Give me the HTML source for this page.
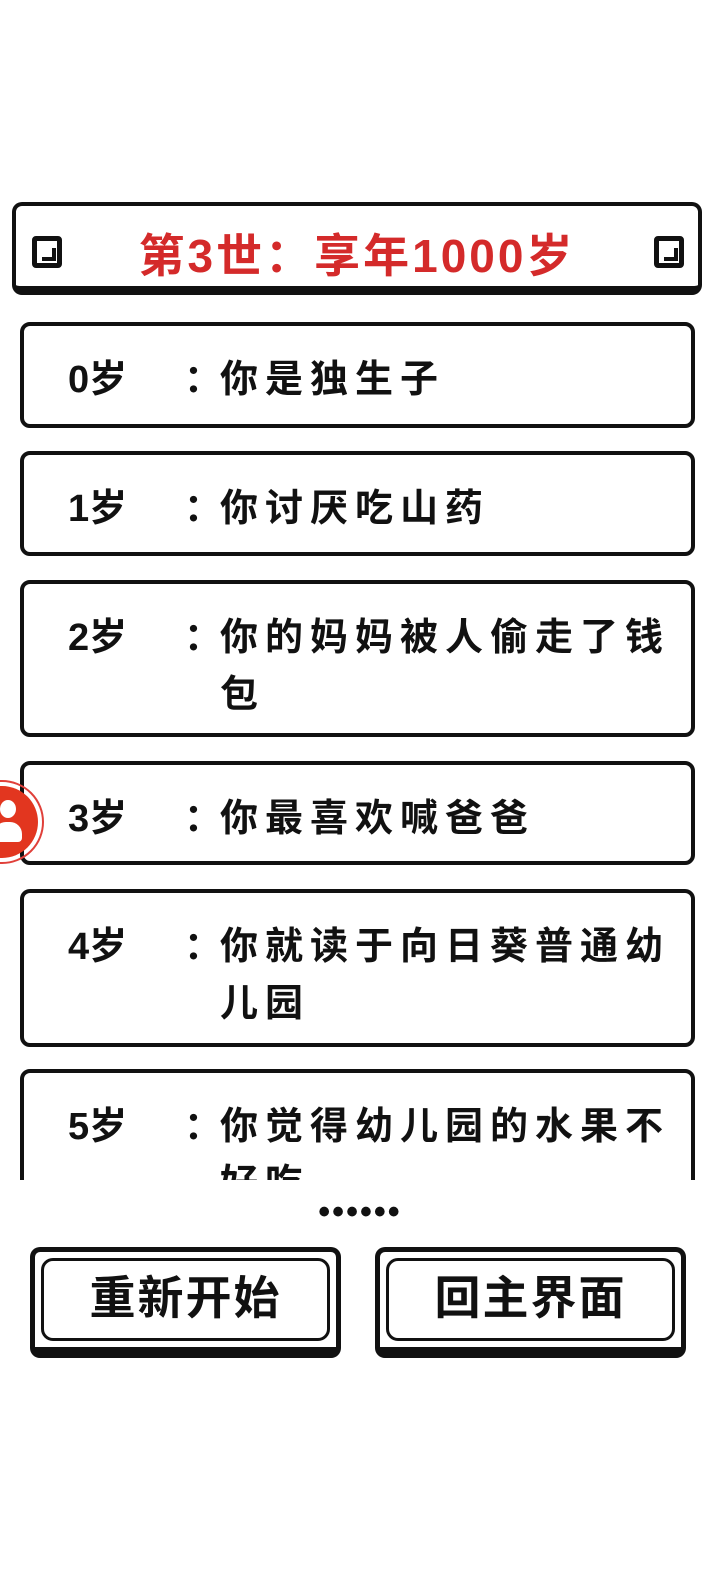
<!DOCTYPE html>
<html><head><meta charset="utf-8"><style>
*{margin:0;padding:0;box-sizing:border-box}
html,body{overflow:hidden}
body{width:720px;height:1584px;background:#fff;position:relative;font-family:"Liberation Sans","WenQuanYi Zen Hei","Noto Sans CJK SC",sans-serif;font-weight:bold;color:#111}
.hdr{position:absolute;left:12px;top:202px;width:690px;height:93px;border:4px solid #111;border-bottom-width:9px;border-radius:10px}
.hdr .t{position:absolute;left:0;right:0;top:14px;text-align:center;color:#d42a2a;font-size:46px;letter-spacing:3px}
.orn{position:absolute;top:30px;width:30px;height:32px;border:5px solid #111;border-radius:4px}
.orn:after{content:"";position:absolute;left:5px;top:7px;width:10px;height:9px;border:4px solid #111;border-left:none;border-top:none}
.clip{position:absolute;left:0;top:0;width:720px;height:1180px;overflow:hidden}
.box{position:absolute;left:20px;width:675px;border:4px solid #111;border-radius:10px}
.age{position:absolute;left:44px;top:26px;font-size:38px;line-height:56px}
.col{position:absolute;left:160px;top:26px;font-size:38px;line-height:56px}
.txt{position:absolute;left:196px;top:26px;width:460px;font-size:38px;line-height:57px;letter-spacing:7px}
.btn{position:absolute;top:1247px;width:311px;height:111px;border:5px solid #111;border-bottom-width:11px;border-radius:10px}
.btn .in{position:absolute;left:6px;top:6px;right:6px;bottom:6px;border:3px solid #111;border-radius:12px;text-align:center;font-size:46px;line-height:74px;letter-spacing:2px}
</style></head><body>
<div class="hdr"><div class="orn" style="left:16px"></div><div class="t">第3世：享年1000岁</div><div class="orn" style="right:14px"></div></div>
<div class="clip">
<div class="box" style="top:322px;height:106px"><span class="age">0岁</span><span class="col">：</span><div class="txt">你是独生子</div></div>
<div class="box" style="top:451px;height:105px"><span class="age">1岁</span><span class="col">：</span><div class="txt">你讨厌吃山药</div></div>
<div class="box" style="top:580px;height:157px"><span class="age">2岁</span><span class="col">：</span><div class="txt">你的妈妈被人偷走了钱包</div></div>
<div class="box" style="top:761px;height:104px"><span class="age">3岁</span><span class="col">：</span><div class="txt">你最喜欢喊爸爸</div></div>
<div class="box" style="top:889px;height:158px"><span class="age">4岁</span><span class="col">：</span><div class="txt">你就读于向日葵普通幼儿园</div></div>
<div class="box" style="top:1069px;height:160px"><span class="age">5岁</span><span class="col">：</span><div class="txt">你觉得幼儿园的水果不好吃</div></div>
</div>
<div style="position:absolute;left:-40px;top:780px;width:84px;height:84px;border-radius:50%;border:2px solid #e0403a;padding:4px"><div style="width:100%;height:100%;border-radius:50%;background:#e2361f;position:relative;overflow:hidden"><div style="position:absolute;left:34px;top:14px;width:16px;height:18px;border-radius:50%;background:#fff"></div><div style="position:absolute;left:28px;top:36px;width:28px;height:20px;border-radius:12px 12px 4px 4px;background:#fff"></div></div></div>
<div style="position:absolute;left:0;right:0;top:1192px;text-align:center;font-size:34px;line-height:40px;letter-spacing:2px">••••••</div>
<div class="btn" style="left:30px"><div class="in">重新开始</div></div>
<div class="btn" style="left:375px"><div class="in">回主界面</div></div>
</body></html>
